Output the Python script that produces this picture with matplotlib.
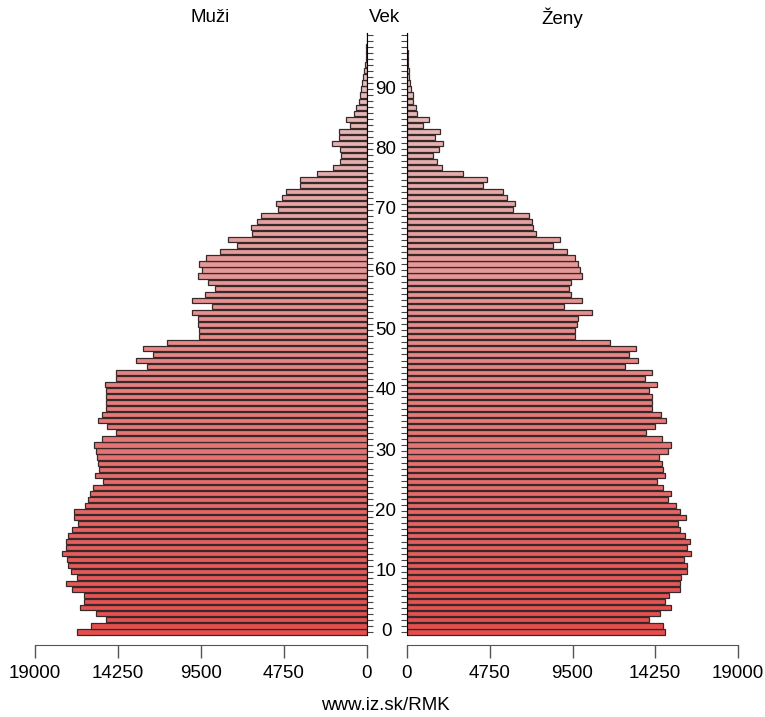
import matplotlib
matplotlib.use("Agg")
import matplotlib.pyplot as plt
import numpy as np

plt.rcParams['font.family'] = ['Liberation Sans', 'DejaVu Sans']

ages = list(range(0, 100))
men = [16594, 15768, 14948, 15522, 16400, 16192, 16192, 16858, 17202, 16594,
       16915, 17106, 17144, 17431, 17202, 17202, 17106, 16858, 16536, 16766,
       16766, 16153, 15962, 15866, 15675, 15102, 15580, 15332, 15390, 15425,
       15522, 15636, 15138, 14375, 14872, 15390, 15138, 14948, 14948, 14948,
       14948, 15006, 14375, 14375, 12615, 13228, 12271, 12844, 11468, 9598,
       9598, 9656, 9656, 10034, 8888, 10034, 9272, 8698, 9082, 9656,
       9461, 9598, 9215, 8412, 7420, 7936, 6594, 6651, 6307, 6061,
       5069, 5201, 4874, 4627, 3824, 3824, 2867, 1950, 1531, 1474,
       1571, 2007, 1628, 1628, 958, 1187, 728, 631, 482, 384,
       327, 270, 210, 160, 110, 80, 50, 30, 20, 10]
women = [14793, 14698, 13893, 14507, 15177, 14793, 15042, 15654, 15654, 15750,
         16074, 16093, 15902, 16322, 16093, 16227, 15940, 15654, 15558, 15998,
         15654, 15424, 14985, 15138, 14680, 14372, 14793, 14698, 14659, 14468,
         14985, 15177, 14659, 13743, 14220, 14851, 14602, 14087, 14087, 14087,
         13893, 14372, 13647, 14087, 12500, 13265, 12749, 13169, 11640, 9633,
         9633, 9767, 9824, 10627, 9002, 10073, 9442, 9289, 9442, 10073,
         9920, 9824, 9633, 9193, 8353, 8811, 7377, 7243, 7148, 7014,
         6059, 6193, 5735, 5486, 4339, 4568, 3193, 1988, 1740, 1510,
         1854, 2045, 1605, 1892, 937, 1261, 593, 497, 325, 325,
         210, 170, 140, 110, 80, 60, 40, 25, 15, 8]
x_ticks = [0, 4750, 9500, 14250, 19000]
age_labels = [0, 10, 20, 30, 40, 50, 60, 70, 80, 90]

W, H = 765, 717
fig = plt.figure(figsize=(W / 100, H / 100), dpi=100)

c0 = np.array([0.90, 0.30, 0.30])
c1 = np.array([0.90, 0.79, 0.79])
cols = [tuple(c0 + (c1 - c0) * (a / 99.0)) for a in ages]
edge = (0.22, 0.16, 0.16)

ybot_px, ytop_px = 645, 33
ylim = ((632 - ybot_px) / 6.033, (632 - ytop_px) / 6.033)
bottom = (H - ybot_px) / H
height = (ybot_px - ytop_px) / H

axL = fig.add_axes([35 / W, bottom, 332 / W, height])
axR = fig.add_axes([407 / W, bottom, 331 / W, height])

axL.barh(ages, men, height=0.85, color=cols, edgecolor=edge, linewidth=0.9)
axR.barh(ages, women, height=0.85, color=cols, edgecolor=edge, linewidth=0.9)

axL.set_xlim(19000, 0)
axR.set_xlim(0, 19000)
for ax in (axL, axR):
    ax.set_ylim(*ylim)
    ax.set_xticks(x_ticks)
    ax.set_xticklabels([str(t) for t in x_ticks], fontsize=13.5)
    ax.tick_params(axis='x', direction='out', length=9.5, width=1.0,
                   color='#555555', pad=5, labelcolor='black')
    ax.spines['top'].set_visible(False)
    ax.spines['bottom'].set_bounds(0, 19000)
    ax.spines['bottom'].set_color('#555555')
    ax.set_yticks(ages)
    ax.set_yticklabels([])

axL.spines['left'].set_visible(False)
axL.spines['right'].set_bounds(-0.5, 99.3)
axL.yaxis.tick_right()
axL.tick_params(axis='y', direction='out', length=4, width=0.8, color='#444444')
axR.spines['right'].set_visible(False)
axR.spines['left'].set_bounds(-0.5, 99.3)
axR.yaxis.tick_left()
axR.tick_params(axis='y', direction='out', length=4, width=0.8, color='#444444')

for a in age_labels:
    ypx = 632 - a * 6.033
    fig.text(386 / W, 1 - ypx / H, str(a), ha='center', va='center', fontsize=13.5)

fig.text(210 / W, 1 - 18 / H, 'Muži', ha='center', va='center', fontsize=13.5)
fig.text(385 / W, 1 - 18 / H, 'Vek', ha='center', va='center', fontsize=13.5)
fig.text(562 / W, 1 - 18 / H, 'Ženy', ha='center', va='center', fontsize=13.5)
fig.text(385 / W, 1 - 706 / H, 'www.iz.sk/RMK', ha='center', va='center', fontsize=13.5)

fig.savefig('out.png', dpi=100)
